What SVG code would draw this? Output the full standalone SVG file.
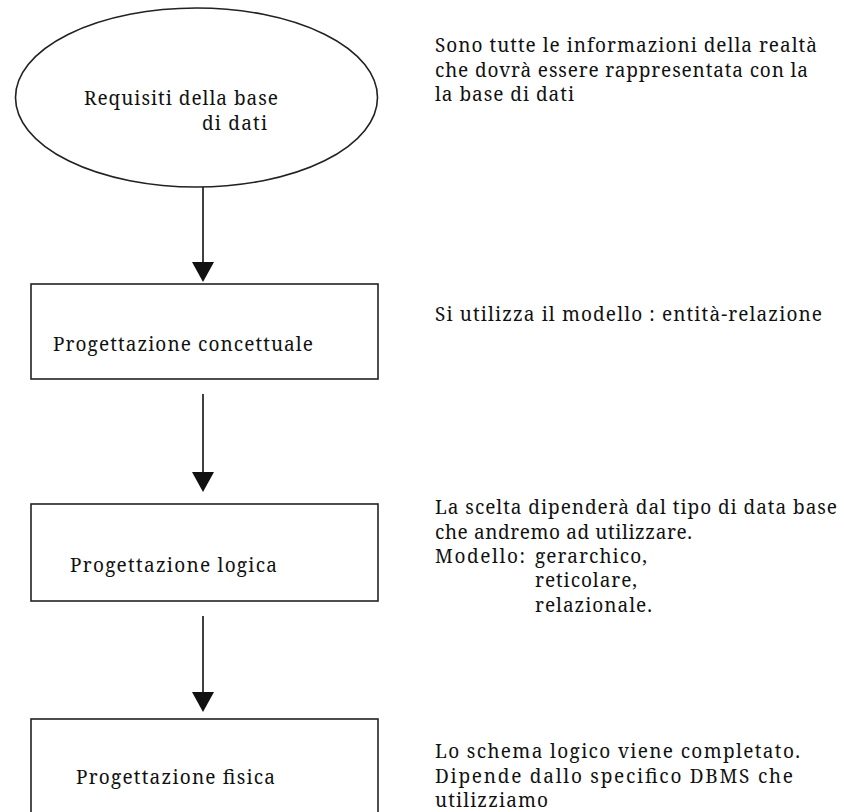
<svg xmlns="http://www.w3.org/2000/svg" width="844" height="812" viewBox="0 0 844 812">
<style>
.shape{fill:#fff;stroke:#222;stroke-width:1.6}
.conn{stroke:#111;stroke-width:1.6;fill:none}
.head{fill:#111}
.t{font-family:'Noto Serif','DejaVu Serif',serif;font-size:19px;fill:#111}
</style>
<rect width="844" height="812" fill="#fff"/>
<g id="connectors">
<path class="conn" d="M203,187 V270"/>
<polygon class="head" points="192,262 214,262 203,282"/>
<path class="conn" d="M203,394 V480"/>
<polygon class="head" points="192,472 214,472 203,492"/>
<path class="conn" d="M203,616 V700"/>
<polygon class="head" points="192,692 214,692 203,712"/>
</g>
<g id="node-requisiti">
<ellipse class="shape" cx="196.5" cy="97.5" rx="181" ry="89.5"/>
<text class="t" x="84" y="105" textLength="194">Requisiti della base</text>
<text class="t" x="202" y="130" textLength="65">di dati</text>
</g>
<g id="node-concettuale">
<rect class="shape" x="31" y="284" width="347" height="95"/>
<text class="t" x="53" y="351" textLength="260">Progettazione concettuale</text>
</g>
<g id="node-logica">
<rect class="shape" x="31" y="504" width="347" height="97"/>
<text class="t" x="70" y="572" textLength="207">Progettazione logica</text>
</g>
<g id="node-fisica">
<rect class="shape" x="31" y="719" width="347" height="110"/>
<text class="t" x="76" y="784" textLength="199">Progettazione fisica</text>
</g>
<g id="note-requisiti">
<text class="t" x="435" y="52" textLength="382">Sono tutte le informazioni della realtà</text>
<text class="t" x="435" y="77" textLength="373">che dovrà essere rappresentata con la</text>
<text class="t" x="435" y="101" textLength="139">la base di dati</text>
</g>
<g id="note-concettuale">
<text class="t" x="435" y="321" textLength="387">Si utilizza il modello : entità-relazione</text>
</g>
<g id="note-logica">
<text class="t" x="435" y="514" textLength="402">La scelta dipenderà dal tipo di data base</text>
<text class="t" x="435" y="539" textLength="257">che andremo ad utilizzare.</text>
<text class="t" x="435" y="563" textLength="90">Modello:</text>
<text class="t" x="535" y="563" textLength="112">gerarchico,</text>
<text class="t" x="535" y="587" textLength="102">reticolare,</text>
<text class="t" x="535" y="612" textLength="117">relazionale.</text>
</g>
<g id="note-fisica">
<text class="t" x="435" y="758" textLength="365">Lo schema logico viene completato.</text>
<text class="t" x="435" y="783" textLength="358">Dipende dallo specifico DBMS che</text>
<text class="t" x="435" y="807" textLength="113">utilizziamo</text>
</g>
</svg>
